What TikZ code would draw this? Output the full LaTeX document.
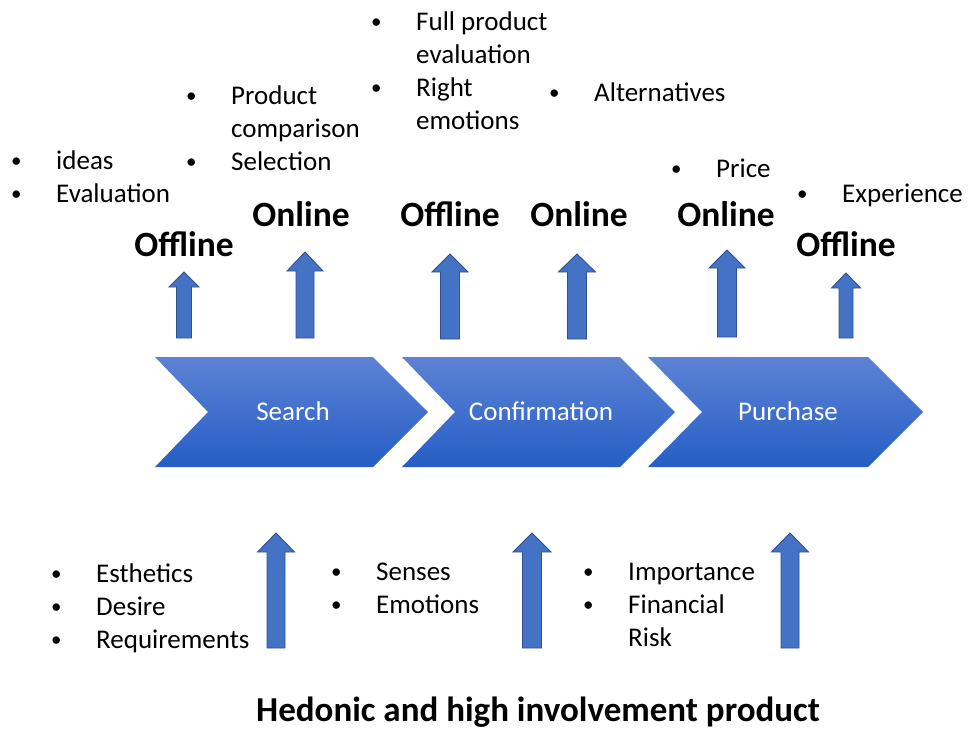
\documentclass[tikz,border=0pt]{standalone}
\usepackage{fontspec}
\setmainfont{Carlito}
\usepackage{array}
\begin{document}
\begin{tikzpicture}[x=1pt,y=-1pt,
  stage/.style={top color=chevtop,bottom color=chevbot,draw=none},
  stagelabel/.style={text=white,font=\fontsize{27}{33}\selectfont,inner sep=0pt},
  channel/.style={font=\bfseries\fontsize{35.5}{40}\selectfont,inner sep=0pt},
  itemlist/.style={anchor=base west,inner sep=0pt,font=\fontsize{27}{33}\selectfont,align=left},
  blockarrow/.style={fill=arrowfill,draw=arrowedge,line width=0.9pt,line join=miter},
  title/.style={font=\bfseries\fontsize{35}{40}\selectfont,inner sep=0pt}]
\definecolor{chevtop}{RGB}{92,130,212}
\definecolor{chevbot}{RGB}{38,94,198}
\definecolor{arrowfill}{RGB}{68,114,196}
\definecolor{arrowedge}{RGB}{47,82,143}
\useasboundingbox (0,0) rectangle (969,729);

% list marker and bullet list: lines separated by \\
\newcommand\mk{\raisebox{1.5pt}{\fontsize{21}{21}\selectfont\textbullet}}
\newcommand\bulletlist[1]{\begin{tabular}[t]{@{}p{45pt}@{}l@{}}#1\end{tabular}}

% upward block arrow: centre x, tip y, head base y, bottom y, shaft half width, head half width
\newcommand\blockup[6]{%
  \draw[blockarrow] (#1-#5,#4) -- (#1-#5,#3) -- (#1-#6,#3) -- (#1,#2)
    -- (#1+#6,#3) -- (#1+#5,#3) -- (#1+#5,#4) -- cycle;}

% process chevrons
\shade[stage] (155,357) -- (373,357) -- (428,412) -- (373,467) -- (155,467) -- (208,412) -- cycle;
\shade[stage] (402,357) -- (620,357) -- (675,412) -- (620,467) -- (402,467) -- (455,412) -- cycle;
\shade[stage] (648,357) -- (868,357) -- (923,412) -- (868,467) -- (648,467) -- (702,412) -- cycle;
\node[stagelabel] (search) at (293,411) {Search};
\node[stagelabel] (confirm) at (541,411) {Confirmation};
\node[stagelabel] (purchase) at (788,411) {Purchase};

% channel arrows above the stages
\blockup{184}{272}{287}{338}{7.5}{15}
\blockup{305}{252}{271}{338}{9}{18}
\blockup{450}{254}{272}{339}{9.5}{18}
\blockup{577}{254}{272}{339}{9.5}{18.5}
\blockup{727}{250}{268}{337}{9.5}{18}
\blockup{846}{273}{288}{338}{7}{14.5}

% influence arrows below the stages
\blockup{276}{533}{552}{648}{9}{18.5}
\blockup{532}{533}{552}{648}{9.5}{19}
\blockup{790}{533}{552}{648}{9}{18.5}

% channel labels
\node[channel] (off1) at (184,244) {Offline};
\node[channel] (on1) at (301,214) {Online};
\node[channel] (off2) at (450,214) {Offline};
\node[channel] (on2) at (579,214) {Online};
\node[channel] (on3) at (726,214) {Online};
\node[channel] (off3) at (846,244) {Offline};

% upper item lists
\node[itemlist] (l1) at (11,169) {\bulletlist{\mk & ideas\\ \mk & Evaluation}};
\node[itemlist] (l2) at (186,104) {\bulletlist{\mk & Product\\ & comparison\\ \mk & Selection}};
\node[itemlist] (l3) at (371,30) {\bulletlist{\mk & Full product\\ & evaluation\\ \mk & Right\\ & emotions}};
\node[itemlist] (l4) at (549,101) {\bulletlist{\mk & Alternatives}};
\node[itemlist] (l5) at (671,177) {\bulletlist{\mk & Price}};
\node[itemlist] (l6) at (797,202) {\bulletlist{\mk & Experience}};

% lower item lists
\node[itemlist] (b1) at (51,582) {\bulletlist{\mk & Esthetics\\ \mk & Desire\\ \mk & Requirements}};
\node[itemlist] (b2) at (331,580) {\bulletlist{\mk & Senses\\ \mk & Emotions}};
\node[itemlist] (b3) at (583,580) {\bulletlist{\mk & Importance\\ \mk & Financial\\ & Risk}};

\node[title] (ttl) at (538,712) {Hedonic and high involvement product};
\end{tikzpicture}
\end{document}
